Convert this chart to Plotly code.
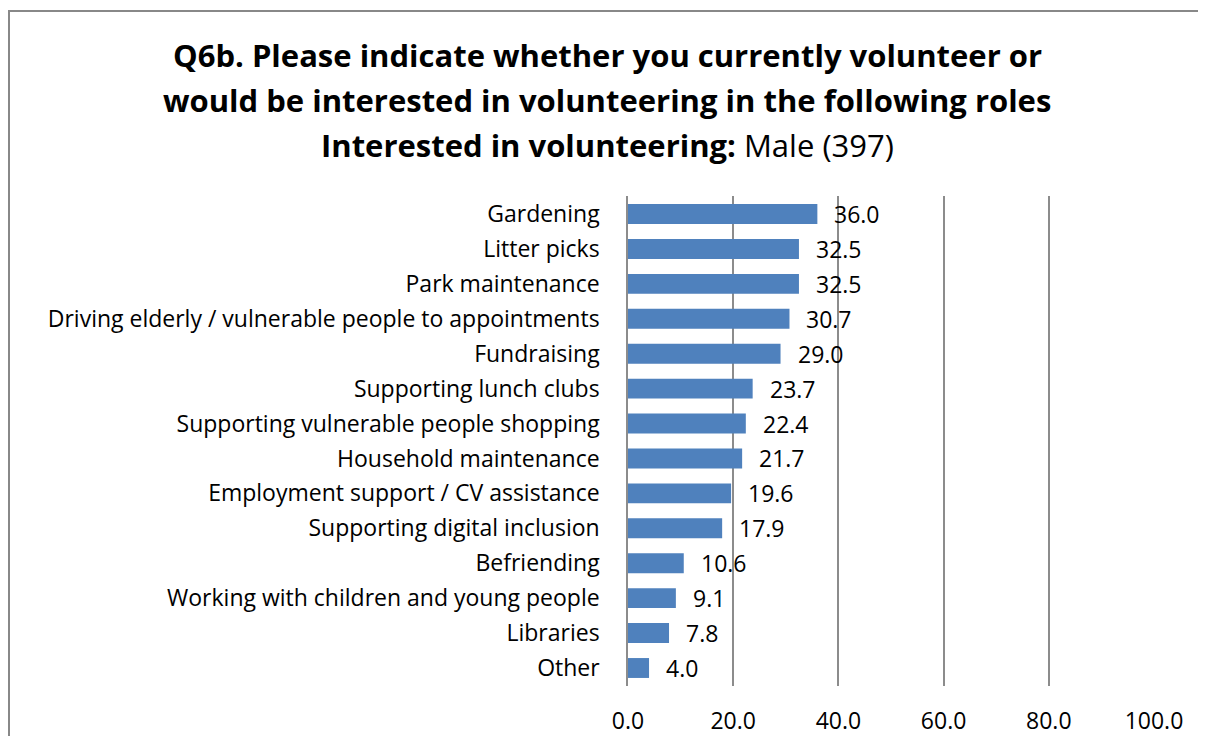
import plotly.graph_objects as go

categories = [
    "Gardening",
    "Litter picks",
    "Park maintenance",
    "Driving elderly / vulnerable people to appointments",
    "Fundraising",
    "Supporting lunch clubs",
    "Supporting vulnerable people shopping",
    "Household maintenance",
    "Employment support / CV assistance",
    "Supporting digital inclusion",
    "Befriending",
    "Working with children and young people",
    "Libraries",
    "Other",
]
values = [36.0, 32.5, 32.5, 30.7, 29.0, 23.7, 22.4, 21.7, 19.6, 17.9, 10.6, 9.1, 7.8, 4.0]
x_ticks = [0, 20, 40, 60, 80, 100]
x_tick_labels = ["0.0", "20.0", "40.0", "60.0", "80.0", "100.0"]
title_lines = [
    "<b>Q6b. Please indicate whether you currently volunteer or</b>",
    "<b>would be interested in volunteering in the following roles</b>",
    "<b>Interested in volunteering:</b> Male (397)",
]

FONT = "Open Sans"
BAR = "#4F81BD"
GRID = "#8C8C8C"

# page has an 8px body margin on every side; keep the figure inside the window
OFF = 8
W, H = 1206 - 2 * OFF, 744 - 2 * OFF
L = 628 - OFF
T = 196 - OFF
R = W - (1154 - OFF)
B = H - (686 - OFF)
pw, ph = W - L - R, H - T - B

def px_x(p):
    return (p - OFF - L) / pw

def px_y(p):
    return (H - B - (p - OFF)) / ph

fig = go.Figure()
fig.add_trace(go.Bar(
    x=values, y=categories, orientation="h",
    marker=dict(color=BAR, line=dict(width=0)),
    hoverinfo="x+y",
))

for c, v in zip(categories, values):
    fig.add_annotation(x=v, y=c, text=f"{v:.1f}", showarrow=False,
                       xanchor="left", xshift=15,
                       font=dict(family=FONT, size=23, color="black"))

for line, yc in zip(title_lines, [55, 100, 145]):
    fig.add_annotation(
        xref="paper", yref="paper", x=px_x(607), y=px_y(yc),
        xanchor="center", yanchor="middle", showarrow=False,
        text=line, font=dict(family=FONT, size=31, color="black"),
    )

fig.add_shape(type="rect", xref="paper", yref="paper",
              x0=px_x(9), x1=px_x(1230), y0=px_y(780), y1=px_y(11),
              line=dict(color="#888888", width=2), fillcolor="rgba(0,0,0,0)",
              layer="below")

fig.update_layout(
    width=W, height=H,
    margin=dict(l=L, r=R, t=T, b=B, pad=0),
    paper_bgcolor="white", plot_bgcolor="white",
    showlegend=False, bargap=0.43,
    font=dict(family=FONT, size=23, color="black"),
)
fig.update_xaxes(
    range=[0, 100], tickvals=x_ticks, ticktext=x_tick_labels,
    showgrid=True, gridcolor=GRID, gridwidth=1.5,
    zeroline=False, showline=False, ticks="",
    ticklabelstandoff=19, automargin=False,
    tickfont=dict(family=FONT, size=23, color="black"),
)
fig.update_yaxes(
    autorange="reversed", showgrid=False, zeroline=False,
    showline=True, linecolor=GRID, linewidth=1.5, ticks="",
    ticklabelstandoff=22, automargin=False,
    tickfont=dict(family=FONT, size=23, color="black"),
)

fig.write_html("out.html")
